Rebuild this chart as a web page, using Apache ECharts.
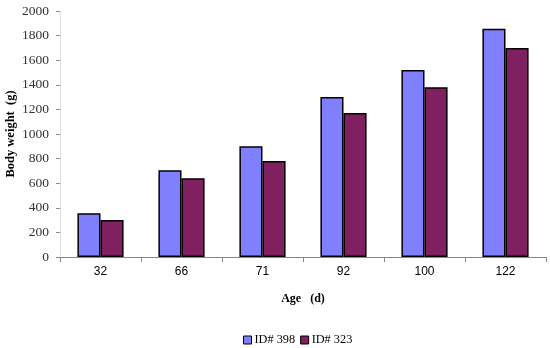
<!DOCTYPE html>
<html>
<head>
<meta charset="utf-8">
<script src="https://cdn.jsdelivr.net/npm/echarts@6/dist/echarts.min.js"></script>
<style>
  html, body { margin: 0; padding: 0; background: #fff; }
  #chart { width: 550px; height: 348px; }
</style>
</head>
<body>
<div id="chart"></div>
<script>
// Body weight by age for two animals
const ages = ['32', '66', '71', '92', '100', '122'];
const id398 = [355, 705, 900, 1300, 1520, 1855];
const id323 = [300, 640, 780, 1170, 1380, 1700];
const seriesNames = ['ID# 398', 'ID# 323'];

const serif = '"Liberation Serif", "Times New Roman", serif';
const sans = '"Liberation Sans", Arial, sans-serif';

const chart = echarts.init(document.getElementById('chart'));
chart.setOption({
  animation: false,
  grid: { left: 60, right: 4, top: 11, bottom: 91, containLabel: false, outerBoundsMode: 'none' },
  legend: {
    bottom: -3,
    left: 238,
    icon: 'rect',
    itemWidth: 8,
    itemHeight: 8,
    itemGap: 5,
    textStyle: { fontFamily: serif, fontSize: 12.3, color: '#000', padding: [0, 0, 0, -2] },
    itemStyle: { borderColor: '#000', borderWidth: 1 },
    data: seriesNames
  },
  xAxis: {
    type: 'category',
    data: ages,
    name: 'Age   (d)',
    nameLocation: 'middle',
    nameGap: 36,
    nameMoveOverlap: false,
    nameTextStyle: { fontFamily: serif, fontWeight: 'bold', fontSize: 12, color: '#000' },
    axisLine: { lineStyle: { color: '#888', width: 1 } },
    axisTick: { show: true, length: 5, lineStyle: { color: '#888' } },
    axisLabel: { fontFamily: sans, fontSize: 12, color: '#000', margin: 9 }
  },
  yAxis: {
    type: 'value',
    min: 0,
    max: 2000,
    interval: 200,
    name: 'Body weight  (g)',
    nameLocation: 'middle',
    nameGap: 43,
    nameMoveOverlap: false,
    nameTextStyle: { fontFamily: serif, fontWeight: 'bold', fontSize: 12.5, color: '#000' },
    axisLine: { show: true, lineStyle: { color: '#ddd', width: 1 } },
    axisTick: { show: true, length: 4, lineStyle: { color: '#888' } },
    axisLabel: { fontFamily: serif, fontSize: 13.5, color: '#333', margin: 11, formatter: v => String(v) },
    splitLine: { show: false }
  },
  series: [
    {
      name: seriesNames[0],
      type: 'bar',
      data: id398,
      barGap: '0%',
      barCategoryGap: '43%',
      itemStyle: { color: '#8080FF', borderColor: '#000', borderWidth: 1.5 }
    },
    {
      name: seriesNames[1],
      type: 'bar',
      data: id323,
      itemStyle: { color: '#802060', borderColor: '#000', borderWidth: 1.5 }
    }
  ]
});
</script>
</body>
</html>
